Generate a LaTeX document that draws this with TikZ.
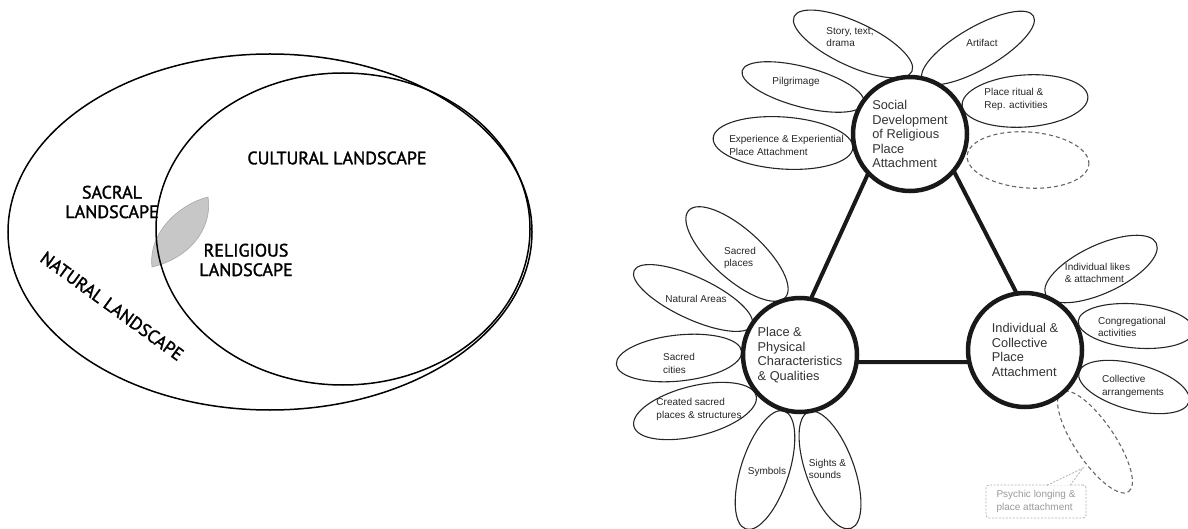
\documentclass[tikz,border=0pt]{standalone}
\usepackage{fontspec}
\setmainfont{Liberation Sans}
\newfontfamily\vennfont[FakeBold=1.6]{PT Sans}
\usetikzlibrary{shapes.geometric}

\tikzset{
  vennline/.style={ellipse, draw=black, line width=1.5pt, inner sep=0pt},
  venntext/.style={font=\vennfont\fontsize{18}{19.5}\selectfont, align=center, inner sep=0pt},
  hub/.style={circle, draw=black!90, line width=4.5pt, fill=white, minimum size=114pt,
    inner sep=0pt, align=left, text=black!80, font=\fontsize{12.8}{14.5}\selectfont},
  petal/.style={ellipse, draw=black!85, line width=1.1pt, inner sep=0pt},
  petalgap/.style={ellipse, draw=black!60, line width=1.1pt, inner sep=0pt, dash pattern=on 4pt off 3pt},
  ptext/.style={align=left, inner sep=0pt, text=black!85, font=\fontsize{10}{12.5}\selectfont},
  link/.style={line width=4pt, draw=black!90, line join=round},
  calloutbox/.style={draw=black!30, line width=0.8pt, dash pattern=on 2pt off 1.5pt, rounded corners=3pt,
    minimum width=100pt, minimum height=33pt, inner sep=0pt, align=left, text=black!40,
    font=\fontsize{10}{12.5}\selectfont},
  calloutline/.style={draw=black!30, line width=0.8pt, dash pattern=on 2pt off 1.5pt},
}

\begin{document}
\begin{tikzpicture}[x=1pt, y=-1pt]
\useasboundingbox (0,0) rectangle (1188,529);

% ---------- landscape Venn diagram ----------
\coordinate (lensA) at (152,267);
\coordinate (lensB) at (208,197);
\path[fill=black!22, draw=black!35, line width=0.6pt]
  (lensA) .. controls (148,232) and (180,204) .. (lensB)
          .. controls (213,228) and (190,258) .. (lensA) -- cycle;

\node[vennline, minimum width=524pt, minimum height=356pt] (natural) at (270,232) {};
\node[vennline, minimum width=374pt, minimum height=312pt] (cultural) at (343,229) {};

\node[venntext] (cultlabel) at (337,158) {CULTURAL LANDSCAPE};
\node[venntext] (sacrlabel) at (112,202) {SACRAL\\LANDSCAPE};
\node[venntext] (religlabel) at (246,260) {RELIGIOUS\\LANDSCAPE};
\node[venntext, rotate=-36] (natlabel) at (112,306) {NATURAL LANDSCAPE};

% ---------- petals around the social hub ----------
\node[petal, minimum width=130pt, minimum height=44pt, rotate=-25] (s1) at (853,44) {};
\node[petal, minimum width=126pt, minimum height=40pt, rotate=-15] (s2) at (803,87) {};
\node[petal, minimum width=140pt, minimum height=52pt, rotate=-4] (s3) at (783,143) {};
\node[petal, minimum width=128pt, minimum height=42pt, rotate=30] (s4) at (978,48) {};
\node[petal, minimum width=126pt, minimum height=52pt, rotate=4] (s5) at (1025,101) {};
\node[petalgap, minimum width=122pt, minimum height=56pt, rotate=-4] (s6) at (1028,160) {};

% ---------- petals around the place hub ----------
\node[petal, minimum width=130pt, minimum height=50pt, rotate=-42] (p1) at (737,254) {};
\node[petal, minimum width=130pt, minimum height=42pt, rotate=-25] (p2) at (693,298) {};
\node[petal, minimum width=126pt, minimum height=46pt, rotate=6] (p3) at (679,358) {};
\node[petal, minimum width=126pt, minimum height=50pt, rotate=14] (p4) at (695,411) {};
\node[petal, minimum width=124pt, minimum height=48pt, rotate=72] (p5) at (765,470) {};
\node[petal, minimum width=124pt, minimum height=48pt, rotate=110] (p6) at (830,470) {};

% ---------- petals around the individual hub ----------
\node[petal, minimum width=122pt, minimum height=48pt, rotate=25] (i1) at (1101,269) {};
\node[petal, minimum width=116pt, minimum height=44pt, rotate=-5] (i2) at (1136,326) {};
\node[petal, minimum width=114pt, minimum height=46pt, rotate=-15] (i3) at (1134,387) {};
\node[petalgap, minimum width=120pt, minimum height=40pt, rotate=-56] (i4) at (1095,442) {};

% ---------- triangle linking the hubs ----------
\coordinate (tA) at (909,84);
\coordinate (tB) at (782,362);
\coordinate (tC) at (1052,362);
\draw[link] (tA) -- (tB) -- (tC) -- cycle;

% ---------- hubs ----------
\node[hub] (social) at (910,134) {Social\\Development\\of Religious\\Place\\Attachment};
\node[hub] (place) at (800,355) {Place \&\\Physical\\Characteristics\\\& Qualities};
\node[hub] (indiv) at (1025,350) {Individual \&\\Collective\\Place\\Attachment};

% ---------- petal texts ----------
\node[ptext] (s1t) at (850,37) {Story, text,\\drama};
\node[ptext] (s2t) at (796,82) {Pilgrimage};
\node[ptext] (s3t) at (786.5,145.5) {Experience \& Experiential\\Place Attachment};
\node[ptext] (s4t) at (982,43) {Artifact};
\node[ptext] (s5t) at (1016,99.5) {Place ritual \&\\Rep. activities};

\node[ptext] (p1t) at (740,258) {Sacred\\places};
\node[ptext] (p2t) at (696,299) {Natural Areas};
\node[ptext] (p3t) at (679,363.5) {Sacred\\cities};
\node[ptext] (p4t) at (699,409.5) {Created sacred\\places \& structures};
\node[ptext] (p5t) at (767,472) {Symbols};
\node[ptext] (p6t) at (827.5,469) {Sights \&\\sounds};

\node[ptext] (i1t) at (1097.5,273) {Individual likes\\\& attachment};
\node[ptext] (i2t) at (1132,327) {Congregational\\activities};
\node[ptext] (i3t) at (1133,386.5) {Collective\\arrangements};

% ---------- callout for the open petal ----------
\node[calloutbox] (psy) at (1036,501.5) {Psychic longing \&\\place attachment};
\coordinate (psytip) at (1083,468);
\draw[calloutline, fill=white] ([xshift=11pt, yshift=-0.8pt]psy.north) -- (psytip)
  -- ([xshift=34pt, yshift=-0.8pt]psy.north);
\end{tikzpicture}
\end{document}
